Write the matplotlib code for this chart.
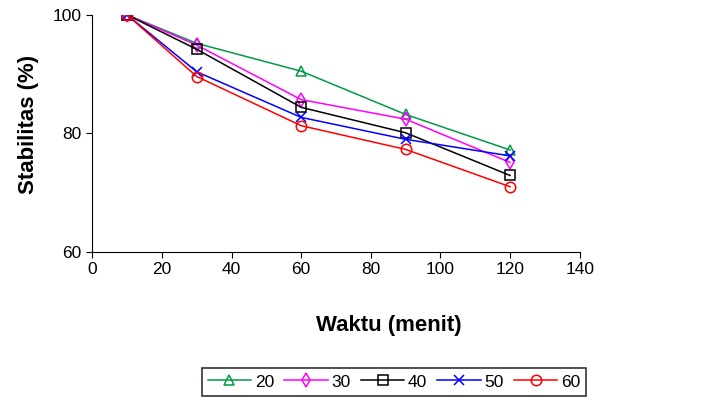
import matplotlib
matplotlib.use("Agg")
import matplotlib.pyplot as plt

plt.rcParams['font.family'] = ['Liberation Sans', 'DejaVu Sans']

waktu = [10, 30, 60, 90, 120]
s20 = [100, 95.2, 90.5, 83.2, 77.2]
s30 = [100, 94.9, 85.7, 82.4, 75.1]
s40 = [100, 94.2, 84.4, 80.1, 72.9]
s50 = [100, 90.4, 82.7, 79.0, 76.2]
s60 = [100, 89.6, 81.3, 77.3, 71.0]
labels = ["20", "30", "40", "50", "60"]

series = [s20, s30, s40, s50, s60]
colors = ["#009944", "#ff00ff", "#000000", "#0000ff", "#ff0000"]
markers = ["^", "d", "s", "x", "o"]

fig = plt.figure(figsize=(7.21, 4.03), dpi=100)
ax = fig.add_axes([0.128, 0.375, 0.676, 0.588])

for ys, c, m, lab in zip(series, colors, markers, labels):
    ax.plot(waktu, ys, color=c, marker=m, markersize=7.5, markerfacecolor='none',
            markeredgecolor=c, markeredgewidth=1.1, linewidth=1.1, label=lab)

ax.set_xlim(0, 140)
ax.set_ylim(60, 100)
ax.set_xticks(range(0, 141, 20))
ax.set_yticks([60, 80, 100])
ax.spines['top'].set_visible(False)
ax.spines['right'].set_visible(False)
ax.tick_params(direction='out', length=4, labelsize=12.5)
ax.set_xlabel("Waktu (menit)", fontsize=16, fontweight='bold')
ax.set_ylabel("Stabilitas (%)", fontsize=16, fontweight='bold')
ax.xaxis.set_label_coords(0.608, -0.268)
ax.yaxis.set_label_coords(-0.11, 0.536)

leg = fig.legend(loc='center', bbox_to_anchor=(394 / 721, 1 - 382 / 403), ncol=5,
                 fontsize=12.5, frameon=True, fancybox=False, edgecolor='black',
                 handlelength=2.5, handletextpad=0.2, columnspacing=0.6,
                 borderpad=0.35)
leg.get_frame().set_linewidth(1.2)

fig.savefig("out.png", dpi=100)
